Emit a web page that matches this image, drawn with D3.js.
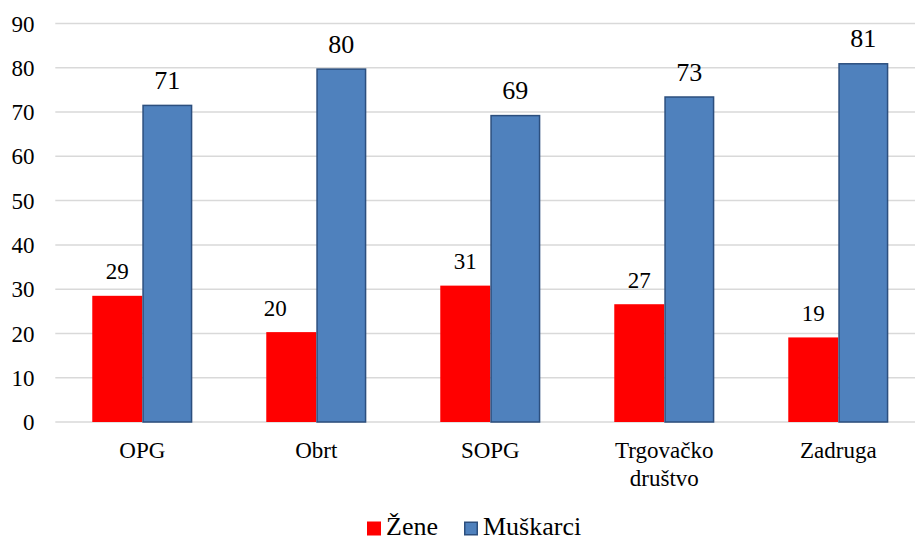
<!DOCTYPE html>
<html>
<head>
<meta charset="utf-8">
<script src="https://cdn.jsdelivr.net/npm/d3@7"></script>
<style>
  body { margin: 0; background: #fff; }
  svg text { font-family: "Liberation Serif", "Times New Roman", Tinos, "DejaVu Serif", serif !important; fill: #000; }
</style>
</head>
<body>
<div id="graphicContainer"></div>
<script>
var categories = ["OPG", "Obrt", "SOPG", "Trgovačko društvo", "Zadruga"],
	seriesNames = ["Žene", "Muškarci"],
	zene = [28.5, 20.3, 30.8, 26.6, 19.1],
	muskarci = [71.5, 79.7, 69.2, 73.4, 80.9],
	zeneLabels = ["29", "20", "31", "27", "19"],
	muskarciLabels = ["71", "80", "69", "73", "81"],
	yTicks = [0, 10, 20, 30, 40, 50, 60, 70, 80, 90];

var width = 915,
	height = 541,
	serif = "'Liberation Serif', 'Times New Roman', 'DejaVu Serif', serif",
	colors = ["#ff0000", "#4f81bd"],
	strokes = ["none", "#2c4f7e"];

var svg = d3.select("#graphicContainer")
	.append("svg")
	.attr("width", width)
	.attr("height", height)
	.style("font-family", serif),
	g = svg.append("g");

var x0 = d3.scaleBand()
	.domain(categories)
	.range([55.3, 925.3])
	.paddingInner(0.425)
	.paddingOuter(0.2125);

var x1 = d3.scaleBand()
	.domain(seriesNames)
	.range([0, x0.bandwidth()]);

var y = d3.scaleLinear()
	.domain([0, 90])
	.range([422, 23.5]);

// gridlines + tick labels
var yAxis = g.append("g")
	.call(d3.axisLeft(y).tickValues(yTicks).tickSize(0).tickPadding(20))
	.attr("transform", "translate(55,0)")
	.attr("font-family", null)
	.attr("font-size", null);
yAxis.select(".domain").remove();
yAxis.selectAll("text")
	.style("font-family", serif)
	.attr("font-size", "23px")
	.attr("fill", "#000")
	.attr("x", -20.5)
	.attr("dy", "0.33em");

g.append("g").selectAll("line")
	.data(yTicks)
	.enter().append("line")
	.attr("x1", 55.3)
	.attr("x2", width)
	.attr("y1", function(d){ return y(d) })
	.attr("y2", function(d){ return y(d) })
	.attr("stroke", "#d9d9d9")
	.attr("stroke-width", 1.5);

var rows = categories.map(function(c, i){
	return {cat: c, values: [
		{s: 0, v: zene[i], label: zeneLabels[i], i: i},
		{s: 1, v: muskarci[i], label: muskarciLabels[i], i: i}
	]};
});

var groups = g.selectAll(".catGroup")
	.data(rows)
	.enter().append("g")
	.attr("class", "catGroup")
	.attr("transform", function(d){ return "translate(" + x0(d.cat) + ",0)" });

groups.selectAll("rect")
	.data(function(d){ return d.values })
	.enter().append("rect")
	.attr("x", function(d){ return x1(seriesNames[d.s]) + (d.s == 1 ? 0.75 : 0) })
	.attr("width", function(d){ return x1.bandwidth() - (d.s == 1 ? 1.5 : 0) })
	.attr("y", function(d){ return y(d.v) })
	.attr("height", function(d){ return y(0) - y(d.v) })
	.attr("fill", function(d){ return colors[d.s] })
	.attr("stroke", function(d){ return strokes[d.s] })
	.attr("stroke-width", 1.5);

// value labels ("20" sits a little left of its bar in the original)
groups.selectAll(".valText")
	.data(function(d){ return d.values })
	.enter().append("text")
	.attr("class", "valText")
	.text(function(d){ return d.label })
	.style("font-family", serif)
	.attr("x", function(d){
		var cx = x1(seriesNames[d.s]) + x1.bandwidth() / 2;
		return (d.s == 0 && d.i == 1) ? cx - 16 : cx;
	})
	.attr("y", function(d){ return y(d.v) - 16.5 })
	.attr("text-anchor", "middle")
	.attr("font-size", function(d){ return d.s == 0 ? "23px" : "26px" });

// category labels, wrapped on space for the long one
groups.append("text")
	.style("font-family", serif)
	.attr("text-anchor", "middle")
	.attr("font-size", "23px")
	.attr("x", x0.bandwidth() / 2)
	.attr("y", 458)
	.each(function(d){
		var words = d.cat.split(" "), t = d3.select(this);
		words.forEach(function(w, k){
			t.append("tspan")
				.attr("x", x0.bandwidth() / 2)
				.attr("dy", k == 0 ? 0 : 28)
				.text(w);
		});
	});

// legend
var legend = g.append("g");
var legendX = [367, 464];
seriesNames.forEach(function(name, i){
	legend.append("rect")
		.attr("x", legendX[i] + (i == 1 ? 0.75 : 0))
		.attr("y", 521.5 + (i == 1 ? 0.75 : 0))
		.attr("width", 14 - (i == 1 ? 1.5 : 0))
		.attr("height", 14 - (i == 1 ? 1.5 : 0))
		.attr("fill", colors[i])
		.attr("stroke", strokes[i])
		.attr("stroke-width", 1.5);
	legend.append("text")
		.style("font-family", serif)
		.attr("x", legendX[i] + 19)
		.attr("y", 535)
		.attr("font-size", "26px")
		.text(name);
});
</script>
</body>
</html>
